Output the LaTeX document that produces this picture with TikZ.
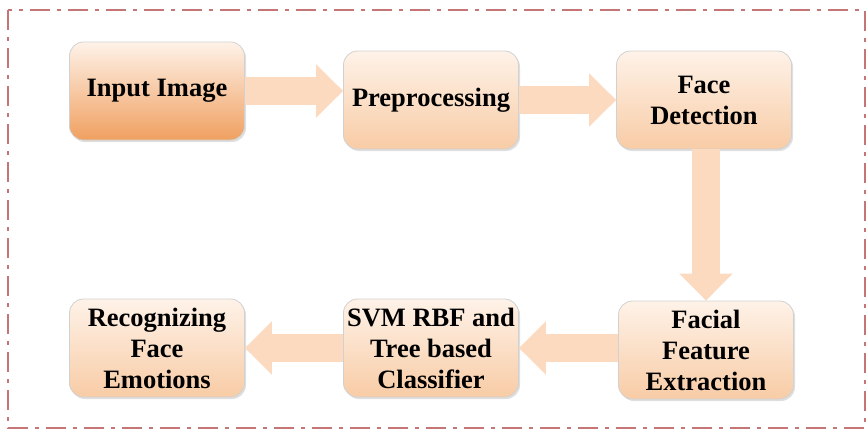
\documentclass[tikz,border=0pt]{standalone}
\usepackage{fontspec}
\setmainfont{Liberation Serif}
\usetikzlibrary{arrows.meta,shadows}

\definecolor{framered}{RGB}{196,118,118}
\definecolor{peachtop}{RGB}{254,242,232}
\definecolor{peachbot}{RGB}{248,204,166}
\definecolor{orangebot}{RGB}{240,160,96}
\definecolor{arrowfill}{RGB}{251,218,192}

\begin{document}
\begin{tikzpicture}[
  x=1pt, y=-1pt,
  box/.style   = {
    rounded corners=14pt,
    align=center,
    minimum width=\boxw,
    minimum height=\boxh,
    draw=black!18, line width=0.8pt,
    top color=peachtop, bottom color=peachbot,
    drop shadow={shadow xshift=1.5pt, shadow yshift=-2pt, opacity=0.25},
    font=\fontsize{26.5}{31}\selectfont\bfseries
  },
  flow/.style  = {
    arrowfill, line width=28pt,
    -{Triangle[width=52pt,length=27pt]}
  }
]

% ---- constants ----
\def\boxw{175pt}      % box width
\def\boxh{98pt}       % box height

% ---- frame ----
\useasboundingbox (0,0) rectangle (868,431);
\draw[framered, line width=2.2pt, dash pattern=on 20pt off 7pt on 4pt off 7pt]
  (8,10) rectangle (865,428);

% ---- nodes ----
\node[box, bottom color=orangebot] (inp) at (157,91)  {Input Image};
\node[box]                         (pre) at (431,100) {Preprocessing};
\node[box]                         (det) at (704,100) {Face\\Detection};
\node[box]                         (fea) at (706,350) {Facial\\Feature\\Extraction};
\node[box]                         (svm) at (431,348) {SVM RBF and\\Tree based\\Classifier};
\node[box]                         (rec) at (157,348) {Recognizing\\Face\\Emotions};

% ---- arrows ----
\draw[flow] (inp.east) -- (inp.east -| pre.west);
\draw[flow] (pre.east) -- (det.west);
\draw[flow] (det.south -| fea.north) -- (fea.north);
\draw[flow] (fea.west |- svm.east) -- (svm.east);
\draw[flow] (svm.west) -- (rec.east);

\end{tikzpicture}
\end{document}
